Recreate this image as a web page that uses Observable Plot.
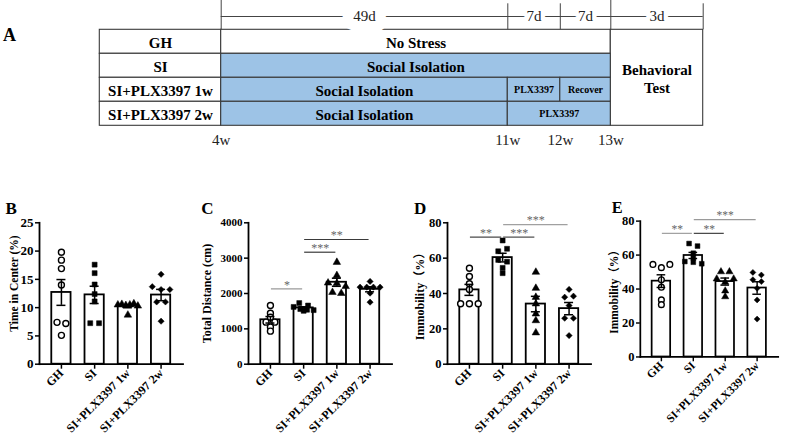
<!DOCTYPE html>
<html>
<head>
<meta charset="utf-8">
<script src="https://cdn.jsdelivr.net/npm/d3@7"></script>
<script src="https://cdn.jsdelivr.net/npm/@observablehq/plot@0.6"></script>
<style>
  html, body { margin: 0; padding: 0; background: #fff; }
  #fig { position: relative; width: 787px; height: 440px; overflow: hidden; }
  #fig > div { position: absolute; }
</style>
</head>
<body>
<div id="fig"></div>
<script>
// ---------------- Panel A: experimental timeline ----------------
const groups = ["GH", "SI", "SI+PLX3397 1w", "SI+PLX3397 2w"];
const weekLabels = ["4w", "11w", "12w", "13w"];
const weekDays = [0, 49, 56, 63];
const periodLabels = ["49d", "7d", "7d", "3d"];
const periodBounds = [0, 49, 56, 63, 66];
const majorBounds = [0, 63];
const labelColStart = -21;
const segGroup = [0, 1, 2, 2, 2, 3, 3];
const segStart = [0, 0, 0, 49, 56, 0, 49];
const segEnd = [63, 63, 49, 56, 63, 49, 63];
const segLabel = ["No Stress", "Social Isolation", "Social Isolation", "PLX3397", "Recover", "Social Isolation", "PLX3397"];
const segKind = ["none", "iso", "iso", "drug", "recover", "iso", "drug"];
const testLabel = "Behavioral\nTest";

// ---------------- Panels B-E: values per group (GH, SI, 1w, 2w) ----------------
const timeInCenter = [
  [19.8, 18.4, 16.9, 14.0, 7.4, 7.2, 5.1],
  [17.6, 16.1, 14.1, 12.4, 11.1, 7.25, 7.25],
  [10.5, 10.6, 10.4, 10.5, 10.7, 10.3, 8.7],
  [15.9, 13.7, 13.2, 13.2, 11.0, 11.0, 7.6]
];
const totalDistance = [
  [1660, 1440, 1330, 1190, 1190, 1050, 935],
  [1730, 1660, 1620, 1560, 1540, 1530, 1510],
  [2885, 2510, 2300, 2290, 2200, 2035, 2005],
  [2340, 2180, 2180, 2180, 2180, 2010, 1755]
];
const immobilityD = [
  [54.3, 49.6, 45.5, 42.3, 34.2, 34.2, 34.2],
  [70.0, 63.9, 65.3, 59.0, 58.0, 54.5, 51.5],
  [52.1, 43.0, 37.9, 34.2, 28.5, 24.7, 17.8],
  [42.3, 37.9, 38.5, 33.2, 26.0, 26.0, 16.2]
];
const immobilityE = [
  [54.5, 52.6, 54.5, 45.5, 41.1, 33.6, 30.8],
  [66.8, 65.3, 61.1, 58.3, 56.2, 55.8, 54.9],
  [50.2, 50.2, 46.0, 44.0, 46.0, 38.9, 35.5],
  [49.8, 48.3, 45.5, 44.4, 40.4, 33.6, 22.3]
];
const ticksB = [0, 5, 10, 15, 20, 25];
const ticksC = [0, 1000, 2000, 3000, 4000];
const ticksDE = [0, 20, 40, 60, 80];
// significance annotations: [from, to, level, stars]
const sigC = [["GH", "SI", 2133, "*"], ["SI", "SI+PLX3397 1w", 3168, "***"], ["SI", "SI+PLX3397 2w", 3527, "**"]];
const sigD = [["GH", "SI", 71.9, "**"], ["SI", "SI+PLX3397 1w", 71.9, "***"], ["SI", "SI+PLX3397 2w", 79.0, "***"]];
const sigE = [["GH", "SI", 72.8, "**"], ["SI", "SI+PLX3397 1w", 72.8, "**"], ["SI", "SI+PLX3397 2w", 80.9, "***"]];

// ---------------- styling / layout ----------------
const SERIF = "'Liberation Serif', 'Times New Roman', 'Noto Sans CJK SC', serif";
const BLUE = "#9dc3e6";
const fig = document.getElementById("fig");
function place(node, left, top) {
  const d = document.createElement("div");
  d.style.left = left + "px";
  d.style.top = top + "px";
  d.appendChild(node);
  fig.appendChild(d);
}

// ---------------- Panel A ----------------
// schematic (non-proportional) day axis: knots in days -> drawn columns
const dayKnots = [labelColStart, 0, 49, 56, 63, 66];
const colKnots = [99.3, 220.7, 507.3, 559.8, 610.3, 702.7];
const dayToCol = d3.scaleLinear(dayKnots, colKnots);
const HEADER_TOP = -1.221, TICK_TOP = -1.083, LINE_Y = -0.554, WEEK_Y = 4.61;

const cells = [
  ...groups.map((g, i) => ({x1: labelColStart, x2: 0, y1: i, y2: i + 1, text: g, kind: "none"})),
  ...segGroup.map((r, i) => ({x1: segStart[i], x2: segEnd[i], y1: r, y2: r + 1, text: segLabel[i], kind: segKind[i]})),
  {x1: 63, x2: 66, y1: 0, y2: groups.length, text: testLabel, kind: "none"}
];
const isSmall = d => d.kind === "drug" || d.kind === "recover";
const midCol = (a, b) => (dayToCol(a) + dayToCol(b)) / 2;
const periods = periodLabels.map((label, i) => ({label, from: periodBounds[i], to: periodBounds[i + 1]}));
const isLong = d => d.to - d.from > 30;

const plotA = Plot.plot({
  width: 787, height: 160, margin: 0,
  x: {type: "identity", axis: null},
  y: {domain: [0, 4], range: [29.3, 125.3], axis: null},
  style: {fontFamily: SERIF, background: "transparent", overflow: "visible", color: "black"},
  marks: [
    Plot.rect(cells.filter(d => d.kind === "none"), {x1: d => dayToCol(d.x1), x2: d => dayToCol(d.x2), y1: "y1", y2: "y2", fill: "white", stroke: "#3a3a3a", strokeWidth: 1.1}),
    Plot.rect(cells.filter(d => d.kind !== "none"), {x1: d => dayToCol(d.x1), x2: d => dayToCol(d.x2), y1: "y1", y2: "y2", fill: BLUE, stroke: "#3a3a3a", strokeWidth: 1.1}),
    Plot.text(cells.filter(d => !isSmall(d)), {x: d => midCol(d.x1, d.x2), y: d => (d.y1 + d.y2) / 2, text: "text", fontSize: 15, fontWeight: "bold", lineHeight: 1.2, fill: "black"}),
    Plot.text(cells.filter(isSmall), {x: d => midCol(d.x1, d.x2), y: d => (d.y1 + d.y2) / 2, text: "text", fontSize: 10, fontWeight: "bold", fill: "black"}),
    Plot.ruleX(periodBounds, {x: d => dayToCol(d), y1: d => majorBounds.includes(d) ? HEADER_TOP : TICK_TOP, y2: 0, stroke: "#444", strokeWidth: 1}),
    Plot.ruleY([LINE_Y], {x1: dayToCol(periodBounds[0]), x2: dayToCol(periodBounds[periodBounds.length - 1]), stroke: "#444", strokeWidth: 1}),
    Plot.text(periods.filter(isLong), {x: d => midCol(d.from, d.to), y: LINE_Y, text: "label", fontSize: 15, fill: "#222", stroke: "white", strokeWidth: 22}),
    Plot.text(periods.filter(d => !isLong(d)), {x: d => midCol(d.from, d.to), y: LINE_Y, text: "label", fontSize: 15, fill: "#222", stroke: "white", strokeWidth: 9}),
    Plot.text(weekLabels, {x: (d, i) => dayToCol(weekDays[i]), y: WEEK_Y, text: d => d, fontSize: 15, fill: "#222"}),
    Plot.text(["A"], {frameAnchor: "top-left", dx: 9, dy: 34.5, textAnchor: "middle", lineAnchor: "middle", fontSize: 18, fontWeight: "bold"})
  ]
});
place(plotA, 0, 0);

// ---------------- helpers for bar panels ----------------
const ML = 55, MR = 10, AXIS_W = 143.5, PANEL_TOP = 180, PANEL_H = 260, MT = 42.3, MB = 76.3;
const PAD_IN = 0.42, PAD_OUT = 0.37;
const bandRef = d3.scaleBand(groups, [ML, ML + AXIS_W]).paddingInner(PAD_IN).paddingOuter(PAD_OUT);
const BW = bandRef.bandwidth();

// spread points of (nearly) equal height side by side, GraphPad-style scatter
function swarm(options) {
  return Plot.initializer(options, (data, facets, channels, scales) => {
    const G = channels.x.value, V = channels.y.value;
    const X = new Float64Array(G.length);
    const py = i => scales.y(V[i]);
    for (const facet of (facets || [d3.range(G.length)])) {
      for (const [g, idx] of d3.group(facet, i => G[i])) {
        const order = Array.from(idx).sort((a, b) => py(a) - py(b));
        const rows = [];
        for (const i of order) {
          const row = rows[rows.length - 1];
          if (row && py(i) - py(row[0]) < 3.6) row.push(i); else rows.push([i]);
        }
        for (const row of rows) {
          row.sort((a, b) => a - b);
          const k = row.length, s = k > 1 ? Math.min(8.8, 20 / (k - 1)) : 0;
          row.forEach((i, j) => { X[i] = scales.x(g) + (j - (k - 1) / 2) * s; });
        }
      }
    }
    return {data, facets, channels: {x: {value: X}}};
  });
}
// place a label halfway between two groups
function midpoint(options) {
  return Plot.initializer(options, (data, facets, channels, scales) => ({
    data, facets,
    channels: {x: {value: Array.from(data, d => (scales.x(d.from) + scales.x(d.to)) / 2)}}
  }));
}

function barPanel(cfg) {
  const pts = cfg.values.flatMap((arr, gi) => arr.map(v => ({group: groups[gi], value: v})));
  const summary = cfg.values.map((arr, gi) => {
    const mean = d3.mean(arr), sem = d3.deviation(arr) / Math.sqrt(arr.length);
    return {group: groups[gi], mean, lo: mean - sem, hi: mean + sem};
  });
  const sig = (cfg.sig || []).map(([from, to, y, label]) => ({from, to, y, label}));
  const marks = [
    Plot.barY(summary, {x: "group", y: "mean", fill: "white", stroke: "black", strokeWidth: 1.8}),
    Plot.dot(pts.filter(d => d.group === groups[0]), swarm({x: "group", y: "value", r: 3, symbol: "circle", fill: "white", stroke: "black", strokeWidth: 1.4})),
    Plot.dot(pts.filter(d => d.group !== groups[0]), swarm({x: "group", y: "value", r: 2.8, symbol: "group", fill: "black", stroke: "black", strokeWidth: 0.5})),
    Plot.ruleX(summary, {x: "group", y1: "lo", y2: "hi", strokeWidth: 1.5}),
    Plot.tickY(summary, {x: "group", y: "hi", strokeWidth: 1.5, inset: (BW - 9) / 2}),
    Plot.tickY(summary, {x: "group", y: "lo", strokeWidth: 1.5, inset: (BW - 9) / 2}),
    Plot.frame({anchor: "left", strokeWidth: 1.8}),
    Plot.frame({anchor: "bottom", strokeWidth: 1.8}),
    Plot.axisY(cfg.yTicks, {tickSize: 4, tickPadding: 2, strokeWidth: 1.5, fontSize: cfg.tickFont, fontWeight: "bold", label: null, tickFormat: d3.format("d")}),
    Plot.axisX({tickRotate: -45, tickSize: 5, tickPadding: 2, strokeWidth: 1.5, fontSize: 12, fontWeight: "bold", label: null}),
    Plot.text([cfg.yLabel], {frameAnchor: "left", rotate: -90, textAnchor: "middle", lineAnchor: "middle", dx: cfg.labelDx, dy: cfg.labelDy || 0, fontSize: cfg.labelFont, fontWeight: "bold"}),
    Plot.text([cfg.letter], {frameAnchor: "top-left", textAnchor: "middle", lineAnchor: "middle", dx: cfg.letterDx, dy: -14.3, fontSize: 17, fontWeight: "bold"}),
    ...sig.flatMap((s, i) => [
      Plot.ruleY([s], {x1: "from", x2: "to", y: "y", stroke: cfg.sigInk[i], strokeWidth: 1.2, insetLeft: BW / 2 + 1, insetRight: BW / 2 + 1}),
      Plot.text([s], midpoint({x: "from", y: "y", text: "label", dy: -4, fontSize: 12, fill: "#666"}))
    ])
  ];
  const chart = Plot.plot({
    width: ML + AXIS_W + MR, height: PANEL_H,
    marginLeft: ML, marginRight: MR, marginTop: MT, marginBottom: MB,
    x: {type: "band", domain: groups, paddingInner: PAD_IN, paddingOuter: PAD_OUT, round: false},
    y: {domain: cfg.yDomain},
    symbol: {domain: groups, range: ["circle", "square", "triangle", "diamond2"]},
    style: {fontFamily: SERIF, background: "transparent", overflow: "visible", color: "black"},
    marks
  });
  place(chart, cfg.axisX - ML, PANEL_TOP);
}

barPanel({axisX: 39.3, values: timeInCenter, yDomain: [0, 25], yTicks: ticksB, tickFont: 13,
  yLabel: "Time in Center (%)", labelFont: 11.5, labelDx: -25.3, labelDy: -10, letter: "B", letterDx: -28.3, sig: [], sigInk: []});
barPanel({axisX: 248.3, values: totalDistance, yDomain: [0, 4000], yTicks: ticksC, tickFont: 11,
  yLabel: "Total Distance (cm)", labelFont: 12, labelDx: -41.6, letter: "C", letterDx: -41.1,
  sig: sigC, sigInk: ["#9a9a9a", "#3a3a3a", "#3a3a3a"]});
barPanel({axisX: 447.3, values: immobilityD, yDomain: [0, 80], yTicks: ticksDE, tickFont: 12.5,
  yLabel: "Immobility（%）", labelFont: 12, labelDx: -27.3, letter: "D", letterDx: -27.3,
  sig: sigD, sigInk: ["#4a4a4a", "#4a4a4a", "#a0a0a0"]});
barPanel({axisX: 641.7, values: immobilityE, yDomain: [0, 80], yTicks: ticksDE, tickFont: 13,
  yLabel: "Immobility（%）", labelFont: 12, labelDx: -26.7, letter: "E", letterDx: -24,
  sig: sigE, sigInk: ["#9a9a9a", "#3a3a3a", "#9a9a9a"]});
</script>
</body>
</html>
